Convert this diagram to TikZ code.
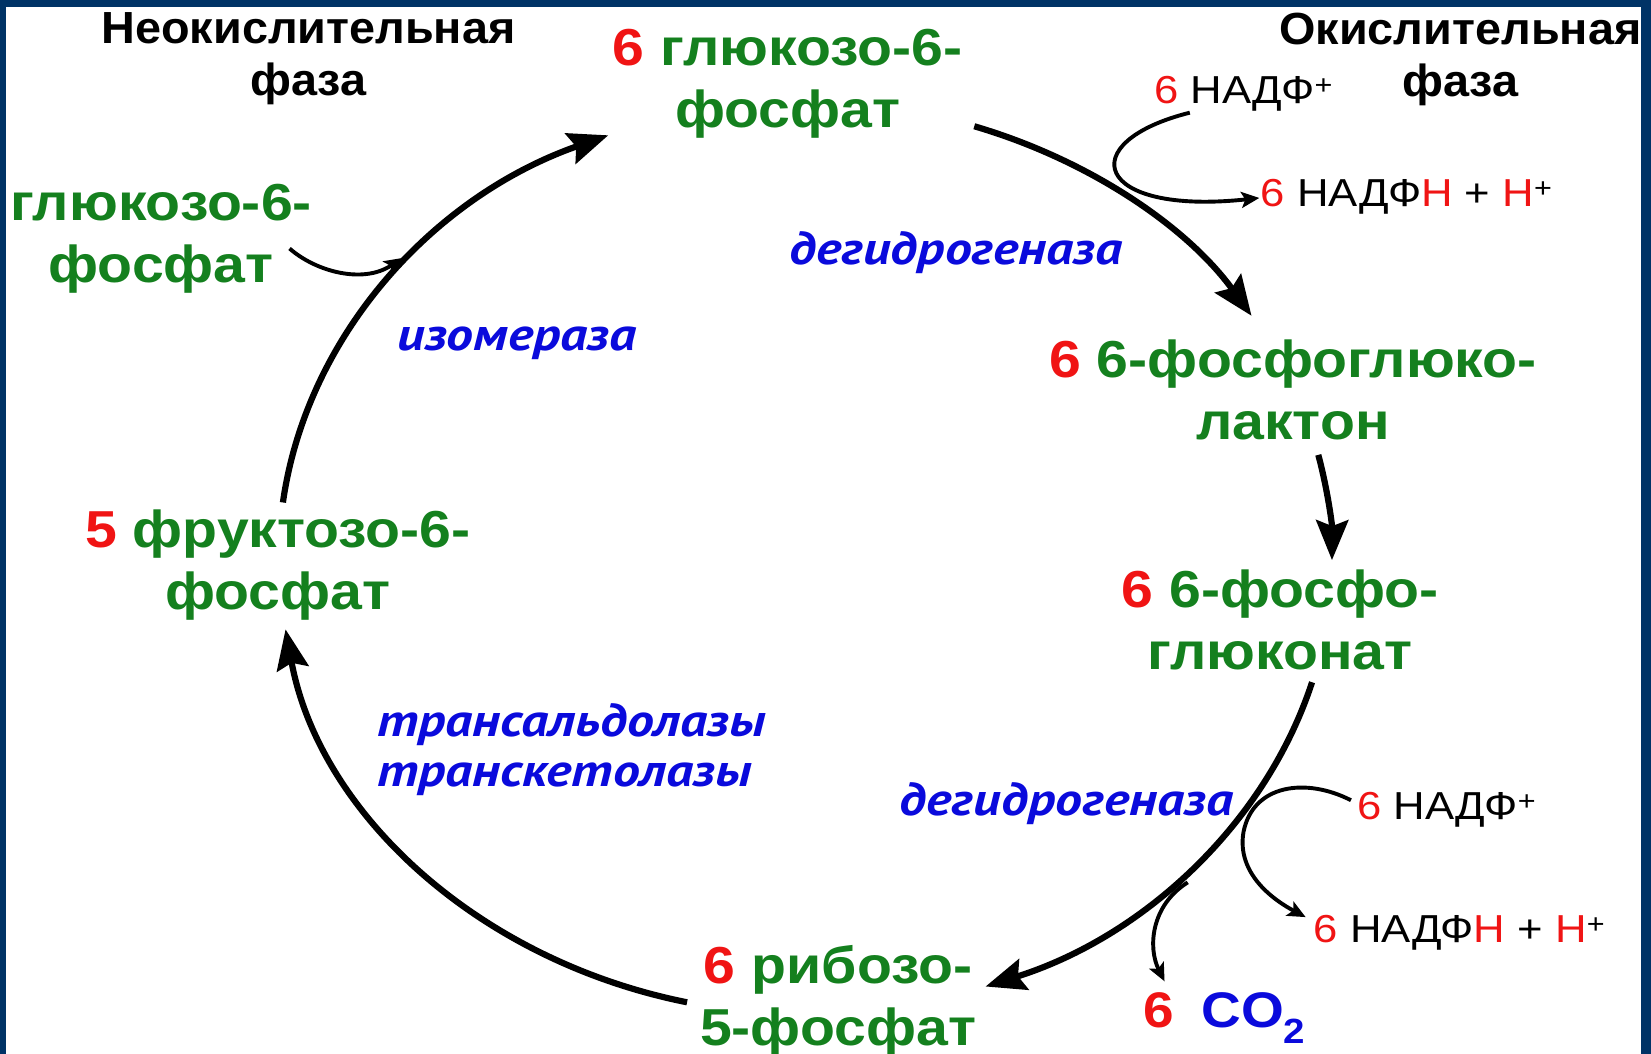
\documentclass[tikz,border=0pt]{standalone}
\usepackage{fontspec}
\setmainfont{Liberation Sans}
\newfontfamily\lblfont{Liberation Sans}[FakeStretch=1.1]
\newfontfamily\hdrfont{Liberation Sans}[FakeStretch=1.04]
\newfontfamily\coffont{Liberation Sans}[FakeStretch=1.12]
\newfontfamily\enzfont{PT Sans}[FakeStretch=1.17]
\usetikzlibrary{arrows.meta,calc}
\definecolor{navy}{RGB}{0,51,102}
\definecolor{lgreen}{RGB}{20,128,30}
\definecolor{lred}{RGB}{240,20,20}
\definecolor{lblue}{RGB}{10,10,220}
\begin{document}
\begin{tikzpicture}[x=1.05293pt,y=-1.05293pt,
  lbl/.style={font=\fontsize{52}{62}\selectfont\lblfont\bfseries, text=lgreen, align=center, inner sep=0pt},
  hdr/.style={font=\fontsize{45}{52}\selectfont\hdrfont\bfseries, text=black, align=center, inner sep=0pt},
  enz/.style={font=\fontsize{46}{50}\selectfont\enzfont\bfseries\itshape, text=lblue, inner sep=0pt},
  cof/.style={font=\fontsize{39}{44}\selectfont\coffont, text=black, inner sep=0pt},
  mainarr/.style={line width=6.2pt, -{Stealth[length=40pt,width=32pt,inset=6pt]}},
  sidearr/.style={line width=3.9pt, -{Stealth[length=18pt,width=16pt,inset=4pt]}}
]
\useasboundingbox (0,0) rectangle (1568,1001);
\fill[navy] (0,0) rectangle (1568,1001);
\fill[white] (5.7,7) rectangle (1558.3,1002);

% headers
\node[hdr] (hdrL) at (293,56) {Неокислительная\\фаза};
\node[hdr] (hdrR) at (1387,56) {Окислительная\\фаза};

% metabolites
\node[lbl] (g6p) at (748,80) {{\color{lred}6} глюкозо-6-\\фосфат};
\node[lbl] (g6pL) at (153,226.5) {глюкозо-6-\\фосфат};
\node[lbl] (lac) at (1228,370) {{\color{lred}6} 6-фосфоглюко-\\лактон};
\node[lbl] (pgl) at (1216,589) {{\color{lred}6} 6-фосфо-\\глюконат};
\node[lbl] (f6p) at (264,537) {{\color{lred}5} фруктозо-6-\\фосфат};
\node[lbl] (r5p) at (796,950.5) {{\color{lred}6} рибозо-\\5-фосфат};

% enzymes
\node[enz] (enz1) at (908,240) {дегидрогеназа};
\node[enz] (enz2) at (491,326) {изомераза};
\node[enz, anchor=west, align=left] (enz3) at (358,712) {трансальдолазы\\транскетолазы};
\node[enz] (enz4) at (1013,763) {дегидрогеназа};

% cofactors
\node[cof] (nadp1) at (1181,89) {{\color{lred}6} НАДФ\textsuperscript{+}};
\node[cof] (nadph1) at (1336,187) {{\color{lred}6} НАДФ{\color{lred}Н} + {\color{lred}Н}\textsuperscript{+}};
\node[cof] (nadp2) at (1374,769) {{\color{lred}6} НАДФ\textsuperscript{+}};
\node[cof] (nadph2) at (1386,886) {{\color{lred}6} НАДФ{\color{lred}Н} + {\color{lred}Н}\textsuperscript{+}};
\node[font=\fontsize{50}{56}\selectfont\lblfont\bfseries, inner sep=0pt] (co2) at (1163,967) {{\color{lred}6}\hspace{0.55em}{\color{lblue}CO\textsubscript{2}}};

% main cycle
\draw[mainarr] ($(g6p)+(177.3,39.9)$) .. controls ($(g6p)+(286.4,71.9)$) and ($(lac)+(-100.6,-154.6)$) .. ($(lac)+(-39.4,-70.1)$);
\draw[mainarr] ($(lac)+(24,62)$) .. controls ($(lac)+(32.8,94.7)$) and ($(pgl)+(49.2,-90.6)$) .. ($(pgl)+(49,-57)$);
\draw[mainarr] ($(pgl)+(30.1,58.9)$) .. controls ($(pgl)+(-13.7,192.8)$) and ($(r5p)+(291,-61.2)$) .. ($(r5p)+(140,-13.6)$);
\draw[mainarr] ($(r5p)+(-143.5,1.4)$) .. controls ($(r5p)+(-342.1,-38.3)$) and ($(f6p)+(39.1,235)$) .. ($(f6p)+(7.2,60.7)$);
\draw[mainarr] ($(f6p)+(4.7,-59.8)$) .. controls ($(f6p)+(26.8,-216)$) and ($(g6p)+(-338.8,107.5)$) .. ($(g6p)+(-170.3,48.5)$);

% side arrows
\draw[sidearr] ($(nadp1)+(-51,18)$) .. controls ($(nadp1)+(-163,46)$) and ($(nadph1)+(-298,18)$) .. ($(nadph1)+(-140,1)$);
\coordinate (sa2m) at ($(nadp2)+(-193,21)$);
\draw[sidearr] ($(nadp2)+(-91,-9)$) .. controls ($(nadp2)+(-134,-31)$) and ($(nadp2)+(-184,-24)$) .. (sa2m)
  .. controls ($(nadph2)+(-212,-56)$) and ($(nadph2)+(-176,-31)$) .. ($(nadph2)+(-146,-15)$);
\draw[sidearr] ($(co2)+(-35,-129)$) .. controls ($(co2)+(-70,-107)$) and ($(co2)+(-73,-67)$) .. ($(co2)+(-57,-35)$);
\draw[sidearr] ($(g6pL)+(122,9.5)$) .. controls ($(g6pL)+(147,31.5)$) and ($(g6pL)+(192,43.5)$) .. ($(g6pL)+(229,18.5)$);
\end{tikzpicture}
\end{document}
